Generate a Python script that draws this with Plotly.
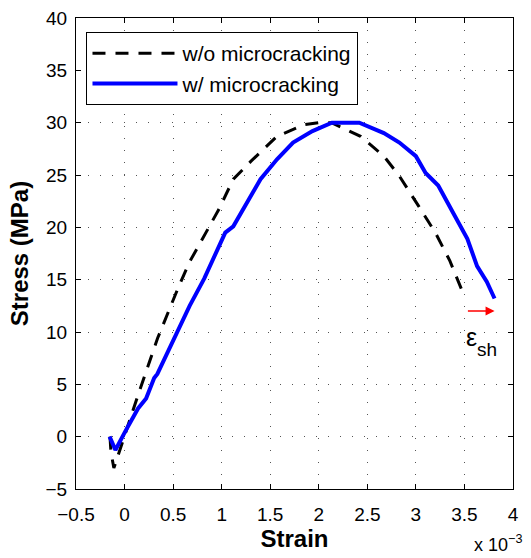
import plotly.graph_objects as go

# Strain values in units of 1e-3, stress in MPa
wo_strain = [-0.15, -0.14, -0.11, -0.04, 0.04, 0.14, 0.34, 0.41, 0.56, 0.67, 0.84, 0.97, 1.12, 1.30,
             1.57, 1.85, 2.00, 2.13, 2.20, 2.43, 2.67, 2.83, 3.03, 3.20, 3.35, 3.50]
wo_stress = [0.0, -1.5, -3.0, -1.0, 1.1, 4.0, 9.4, 11.0, 14.4, 16.7, 19.5, 21.7, 24.6, 26.3,
             28.7, 29.8, 30.0, 30.0, 29.7, 28.7, 26.8, 24.9, 22.0, 19.5, 16.8, 13.4]

w_strain = [-0.154, -0.094, 0.006, 0.139, 0.222, 0.305, 0.338, 0.538, 0.67, 0.82, 0.954, 1.037, 1.12,
            1.237, 1.40, 1.57, 1.735, 1.935, 2.135, 2.417, 2.50, 2.67, 2.83, 3.00, 3.10, 3.23,
            3.40, 3.53, 3.63, 3.73, 3.81]
w_stress = [0.0, -1.27, 0.48, 2.7, 3.65, 5.6, 6.0, 9.84, 12.5, 15.1, 17.8, 19.5, 20.1,
            22.0, 24.6, 26.5, 28.1, 29.2, 30.0, 30.0, 29.7, 29.0, 28.1, 26.8, 25.2, 24.0,
            21.1, 18.9, 16.3, 14.8, 13.2]

x_ticks = [-0.5, 0, 0.5, 1, 1.5, 2, 2.5, 3, 3.5, 4]
x_tick_text = ["\u22120.5", "0", "0.5", "1", "1.5", "2", "2.5", "3", "3.5", "4"]
y_ticks = [-5, 0, 5, 10, 15, 20, 25, 30, 35, 40]
y_tick_text = ["\u22125", "0", "5", "10", "15", "20", "25", "30", "35", "40"]

arrow_start = (3.52, 12.0)
arrow_end = (3.81, 12.0)
eps_pos = (3.50, 9.5)

FONT = "Liberation Sans, Arial, sans-serif"

fig = go.Figure()
fig.add_trace(go.Scatter(x=wo_strain, y=wo_stress, mode="lines", name="w/o microcracking",
                         line=dict(color="black", width=3, dash="13px,10px")))
fig.add_trace(go.Scatter(x=w_strain, y=w_stress, mode="lines", name="w/ microcracking",
                         line=dict(color="#0000ff", width=4)))

fig.add_annotation(x=arrow_end[0], y=arrow_end[1], ax=arrow_start[0], ay=arrow_start[1],
                   xref="x", yref="y", axref="x", ayref="y", text="", showarrow=True,
                   arrowhead=2, arrowsize=1.2, arrowwidth=1.5, arrowcolor="red")
fig.add_annotation(x=eps_pos[0], y=eps_pos[1], xref="x", yref="y", xanchor="left",
                   text="\u03b5", showarrow=False,
                   font=dict(family=FONT, size=25, color="black"))
fig.add_annotation(x=eps_pos[0], y=eps_pos[1], xref="x", yref="y", xanchor="left",
                   xshift=11, yshift=-12,
                   text="sh", showarrow=False,
                   font=dict(family=FONT, size=19, color="black"))
fig.add_annotation(x=1.0, y=0, xref="paper", yref="paper", xanchor="right", yanchor="top",
                   yshift=-41, xshift=11,
                   text="x 10<sup>\u22123</sup>", showarrow=False,
                   font=dict(family=FONT, size=18, color="black"))

axis_common = dict(showline=True, linecolor="black", linewidth=1, mirror="ticks",
                   ticks="inside", ticklen=5, tickcolor="black",
                   showgrid=True, gridcolor="#555555", gridwidth=1, griddash="1px,11px",
                   zeroline=False, tickfont=dict(family=FONT, size=19, color="black"))

fig.update_xaxes(range=[-0.5, 4], tickvals=x_ticks, ticktext=x_tick_text, ticklabelstandoff=8,
                 title=dict(text="<b>Strain</b>", font=dict(family=FONT, size=24, color="black"),
                            standoff=4), automargin=True, **axis_common)
fig.update_yaxes(range=[-5, 40], tickvals=y_ticks, ticktext=y_tick_text, ticklabelstandoff=4,
                 title=dict(text="<b>Stress (MPa)</b>", font=dict(family=FONT, size=24, color="black"),
                            standoff=10), automargin=False, **axis_common)

fig.update_layout(width=531, height=558, margin=dict(l=76, r=12, t=18, b=67),
                  plot_bgcolor="white", paper_bgcolor="white",
                  legend=dict(x=0.024, y=0.97, xanchor="left", yanchor="top",
                              bordercolor="black", borderwidth=1, bgcolor="white",
                              font=dict(family=FONT, size=21, color="black"),
                              itemwidth=85, tracegroupgap=0),
                  showlegend=True)

fig.write_html("out.html")
